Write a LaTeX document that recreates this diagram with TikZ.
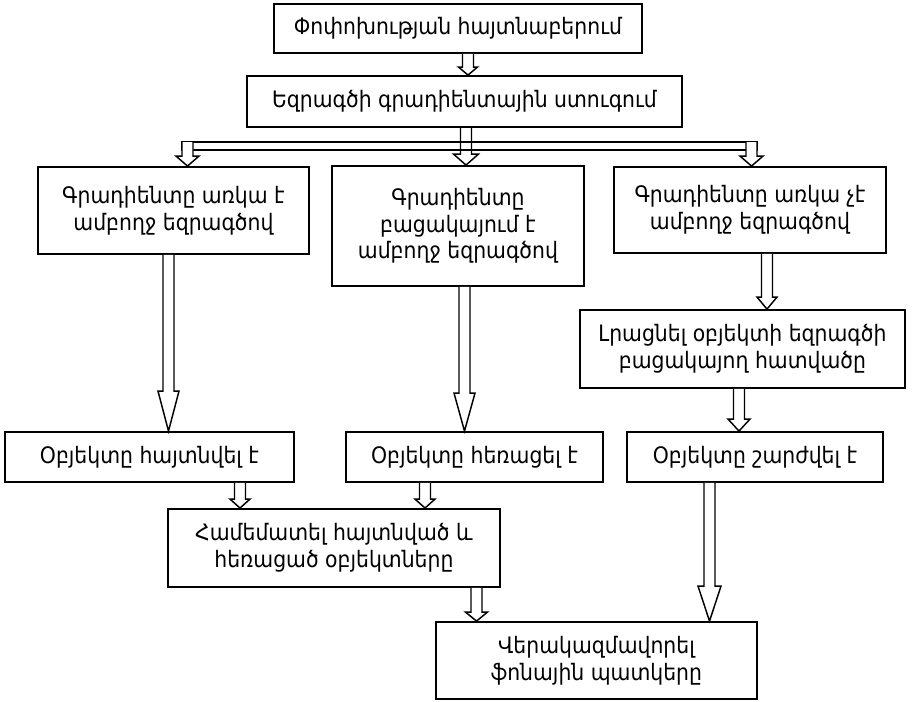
\documentclass[tikz,border=0pt]{standalone}
\usepackage{fontspec}
\setmainfont{DejaVu Sans Condensed}
\usetikzlibrary{calc}

\newcommand{\hollowarrow}[6][]{%
  \draw[flow,#1] ($(#2,0 |- #3)+(-5.5,0)$) -- ($(#2,0 |- #4)+(-5.5,-#5)$)
    -- ++(5.5-#6,0) -- (#2,0 |- #4) -- ($(#2,0 |- #4)+(#6,-#5)$)
    -- ++(5.5-#6,0) -- ($(#2,0 |- #3)+(5.5,0)$);}

\begin{document}
\begin{tikzpicture}[x=0.75pt,y=-0.75pt,
  box/.style={draw,line width=1.4pt,inner sep=2pt,align=center,
    font=\fontsize{17}{20}\selectfont},
  flow/.style={draw,fill=white,line width=1.1pt,line join=miter}]
  \useasboundingbox (0,0) rectangle (923,701);

  \node[box,minimum width=276pt,minimum height=36.75pt] (detect) at (458,28.5)
    {Փոփոխության հայտնաբերում};
  \node[box,minimum width=326.25pt,minimum height=38.25pt] (check) at (464.5,101.5)
    {Եզրագծի գրադիենտային ստուգում};
  \node[box,minimum width=203.25pt,minimum height=65.25pt] (present) at (173.5,210.5)
    {Գրադիենտը առկա է\\ամբողջ եզրագծով};
  \node[box,minimum width=189pt,minimum height=90pt] (absent) at (458,226)
    {Գրադիենտը\\բացակայում է\\ամբողջ եզրագծով};
  \node[box,minimum width=204pt,minimum height=64.5pt] (partial) at (750,210)
    {Գրադիենտը առկա չէ\\ամբողջ եզրագծով};
  \node[box,minimum width=243.75pt,minimum height=58.5pt] (complete) at (742.5,349)
    {Լրացնել օբյեկտի եզրագծի\\բացակայող հատվածը};
  \node[box,minimum width=216.75pt,minimum height=37.5pt] (appeared) at (149.5,457)
    {Օբյեկտը հայտնվել է};
  \node[box,minimum width=192.75pt,minimum height=37.5pt] (removed) at (474.5,457)
    {Օբյեկտը հեռացել է};
  \node[box,minimum width=192pt,minimum height=37.5pt] (moved) at (755,457)
    {Օբյեկտը շարժվել է};
  \node[box,minimum width=249pt,minimum height=58.5pt] (compare) at (334,548)
    {Համեմատել հայտնված և\\հեռացած օբյեկտները};
  \node[box,minimum width=240.75pt,minimum height=57.75pt] (rebuild) at (596.5,660.5)
    {Վերակազմավորել\\ֆոնային պատկերը};

  \coordinate (busL) at (182,142);
  \coordinate (busR) at (757,150);
  \draw[flow,fill=none] (busL) rectangle (busR);

  \hollowarrow{468}{detect.south}{check.north}{8}{9.5}
  \hollowarrow[fill=none]{466}{check.south}{absent.north}{11}{12.5}
  \hollowarrow{187.5}{busL}{present.north}{10}{11.5}
  \hollowarrow{751.5}{busL}{partial.north}{10}{11.5}
  \hollowarrow{168.5}{present.south}{appeared.north}{40}{10.5}
  \hollowarrow{464.5}{absent.south}{removed.north}{38}{10.5}
  \hollowarrow{767}{partial.south}{complete.north}{12}{10}
  \hollowarrow{739}{complete.south}{moved.north}{12}{11}
  \hollowarrow{240}{appeared.south}{compare.north}{9}{10}
  \hollowarrow{425}{removed.south}{compare.north}{9}{10}
  \hollowarrow{476.5}{compare.south}{rebuild.north}{9}{11}
  \hollowarrow{709.5}{moved.south}{rebuild.north}{35}{11.5}
\end{tikzpicture}
\end{document}
